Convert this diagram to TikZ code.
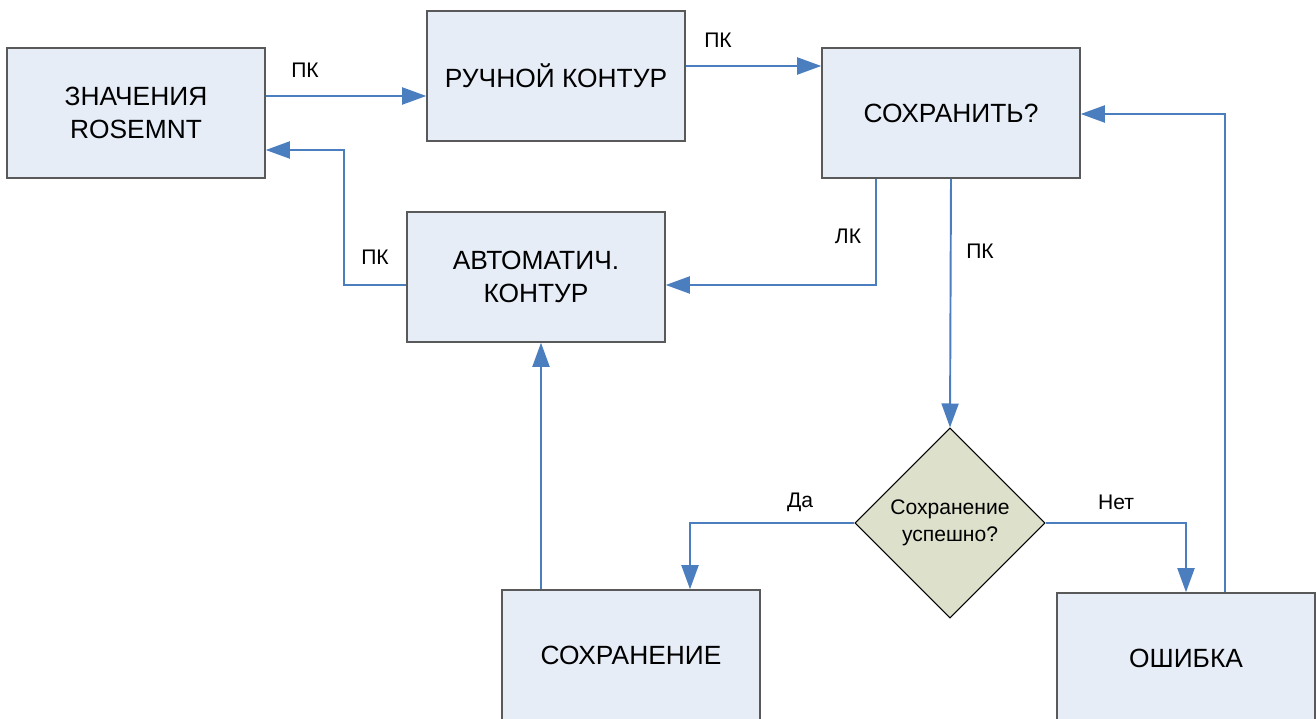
\documentclass[tikz,border=0pt]{standalone}
\usepackage{fontspec}
\setmainfont{Liberation Sans}
\usetikzlibrary{positioning,arrows.meta,shapes.geometric,calc}
\definecolor{boxfill}{HTML}{E6EDF7}
\definecolor{boxline}{HTML}{595959}
\definecolor{link}{HTML}{4A7EBF}
\definecolor{dfill}{HTML}{DDE0CB}
\tikzset{
  block/.style={rectangle, draw=boxline, fill=boxfill, line width=0.9pt,
                minimum width=5.16cm, minimum height=2.6cm, align=center,
                font=\fontsize{15}{19}\selectfont},
  decide/.style={diamond, aspect=1, draw=black, fill=dfill, line width=0.6pt,
                 minimum width=3.8cm, minimum height=3.8cm, inner sep=0pt,
                 align=center, font=\fontsize{12}{15}\selectfont},
  link/.style={-{Triangle[length=0.48cm,width=0.34cm]}, line width=1.1pt, draw=link},
  tag/.style={font=\fontsize{12}{14}\selectfont}
}
\begin{document}
\begin{tikzpicture}[x=0.02cm,y=-0.02cm]
\useasboundingbox (0,0) rectangle (1316,719);
% blocks
\node[block] (rose) at (136,113) {ЗНАЧЕНИЯ\\ROSEMNT};
\node[block] (manual) at (556,76) {РУЧНОЙ КОНТУР};
\node[block] (savq) at (951,113) {СОХРАНИТЬ?};
\node[block] (auto) at (536,277) {АВТОМАТИЧ.\\КОНТУР};
\node[decide] (dia) at (950,523) {Сохранение\\успешно?};
\node[block] (saving) at (631,655) {СОХРАНЕНИЕ};
\node[block] (error) at (1186,658) {ОШИБКА};
% bends
\coordinate (upback) at (344,150);
\coordinate (leftdn) at (876,285);
\coordinate (errup) at (1225,114);
% connectors
\draw[link] (rose.east |- 0,96) -- (manual.west |- 0,96);
\draw[link] (manual.east |- 0,66) -- (savq.west |- 0,66);
\draw[link] (savq.south -| leftdn) -- (leftdn) -- (auto.east |- leftdn);
\draw[link] (savq.south) -- (dia.north);
\draw[link] (auto.west |- leftdn) -| (upback) -- (rose.east |- upback);
\draw[link] (dia.west) -| (saving.north -| 690,0);
\draw[link] (dia.east) -| (error.north);
\draw[link] (saving.north -| 541,0) -- (auto.south -| 541,0);
\draw[link] (error.north -| errup) -- (errup) -- (savq.east |- errup);
% labels
\node[tag] (t1) at (305,70) {ПК};
\node[tag] (t2) at (718,40) {ПК};
\node[tag] (t3) at (848,236) {ЛК};
\node[tag] (t4) at (980,251) {ПК};
\node[tag] (t5) at (375,257) {ПК};
\node[tag] (t6) at (800,502) {Да};
\node[tag] (t7) at (1116,502) {Нет};
\end{tikzpicture}
\end{document}
